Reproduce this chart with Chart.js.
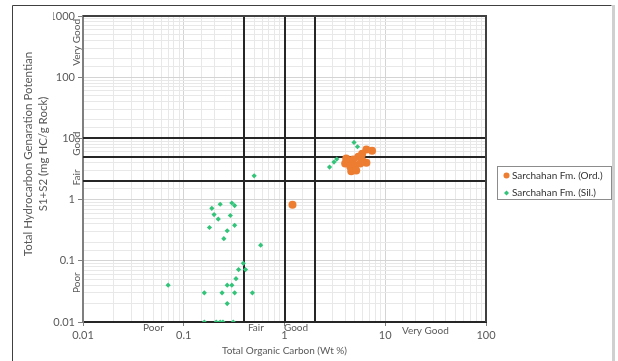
<!DOCTYPE html>
<html>
<head>
<meta charset="utf-8">
<script src="https://cdn.jsdelivr.net/npm/chart.js@4/dist/chart.umd.min.js"></script>
<style>
  html, body { margin: 0; padding: 0; background: #fff; }
  #wrap { position: relative; width: 618px; height: 361px; }
</style>
</head>
<body>
<div id="wrap"><canvas id="chart" width="618" height="361"></canvas></div>
<script>
// Sarchahan Fm. (Ord.) - TOC (wt %) vs S1+S2 (mg HC/g rock)
const ordToc   = [7.4, 6.5, 5.9, 5.4, 4.8, 4.3, 4.0, 4.5, 5.05, 5.65, 6.5, 4.6, 5.15, 5.9, 4.1, 1.2];
const ordS1S2  = [6.3, 6.6, 5.6, 5.0, 4.5, 4.3, 3.9, 3.45, 3.6, 3.9, 4.0, 2.9, 3.0, 4.35, 4.7, 0.82];

// Sarchahan Fm. (Sil.)
const silToc   = [4.9, 5.3, 3.3, 3.1, 2.8, 4.0, 0.50,
                  0.19, 0.23, 0.30, 0.32, 0.20, 0.22, 0.29, 0.18, 0.27, 0.32, 0.25, 0.58,
                  0.39, 0.35, 0.41, 0.33, 0.07, 0.27, 0.30, 0.16, 0.24, 0.32, 0.48, 0.27,
                  0.16, 0.21, 0.23, 0.245, 0.31];
const silS1S2  = [8.6, 7.3, 4.6, 4.1, 3.4, 4.6, 2.45,
                  0.72, 0.84, 0.88, 0.80, 0.57, 0.48, 0.55, 0.35, 0.31, 0.38, 0.23, 0.18,
                  0.091, 0.072, 0.072, 0.051, 0.040, 0.040, 0.040, 0.030, 0.030, 0.030, 0.030, 0.020,
                  0.01, 0.01, 0.01, 0.01, 0.01];

// classification limits
const tocLimits  = [0.4, 1, 2];
const s1s2Limits = [2, 5, 10];

const xRange = [0.01, 100];
const yRange = [0.01, 1000];

const seriesNames = ["Sarchahan Fm. (Ord.)", "Sarchahan Fm. (Sil.)"];
const seriesColors = ["#ED7D31", "#33C47A"];

// zone labels: [text, value along axis]
const xZones = [["Poor", 0.05], ["Fair", 0.52], ["Good", 1.3], ["Very Good", 25]];
const yZones = [["Very Good", 370], ["Good", 8.2], ["Fair", 2.3], ["Poor", 0.044]];

const FONT = "Lato, 'Open Sans', sans-serif";
const TXT = "#595959";

function toPoints(xs, ys) {
    return xs.map((x, i) => ({ x: x, y: ys[i] }));
}

function isDecade(v) {
    const l = Math.log10(v);
    return Math.abs(l - Math.round(l)) < 1e-9;
}

const decorations = {
    id: "decorations",
    beforeDatasetsDraw(chart) {
        const { ctx, chartArea: a, scales: { x, y } } = chart;
        ctx.save();
        ctx.strokeStyle = "#262626";
        ctx.lineWidth = 2;
        tocLimits.forEach(v => {
            const px = Math.round(x.getPixelForValue(v));
            ctx.beginPath(); ctx.moveTo(px, a.top); ctx.lineTo(px, a.bottom); ctx.stroke();
        });
        s1s2Limits.forEach(v => {
            const py = Math.round(y.getPixelForValue(v));
            ctx.beginPath(); ctx.moveTo(a.left, py); ctx.lineTo(a.right, py); ctx.stroke();
        });
        // plot frame (top + right)
        ctx.strokeStyle = "#404040";
        ctx.beginPath();
        ctx.moveTo(a.left, a.top); ctx.lineTo(a.right, a.top); ctx.lineTo(a.right, a.bottom);
        ctx.stroke();
        ctx.restore();
    },
    afterDraw(chart) {
        const { ctx, chartArea: a, scales: { x, y } } = chart;
        ctx.save();
        ctx.fillStyle = TXT;
        ctx.font = "10px " + FONT;
        ctx.textAlign = "center";
        ctx.textBaseline = "middle";

        xZones.forEach(([t, v]) => {
            ctx.fillText(t, x.getPixelForValue(v), t === "Very Good" ? 331 : 328);
        });
        yZones.forEach(([t, v]) => {
            ctx.save();
            ctx.translate(76.5, y.getPixelForValue(v));
            ctx.rotate(-Math.PI / 2);
            ctx.fillText(t, 0, 0);
            ctx.restore();
        });

        // axis titles
        ctx.fillText("Total Organic Carbon (Wt %)", (a.left + a.right) / 2, 351);
        ctx.save();
        ctx.translate(28, 154);
        ctx.rotate(-Math.PI / 2);
        ctx.font = "11.5px " + FONT;
        ctx.fillText("Total Hydrocarbon Genaration Potentian", 0, 0);
        ctx.fillText("S1+S2 (mg HC/g Rock)", 0, 15);
        ctx.restore();

        // legend
        ctx.strokeStyle = "#8c8c8c";
        ctx.lineWidth = 1;
        ctx.strokeRect(497.5, 166.5, 114, 33);
        ctx.textAlign = "left";
        ctx.fillStyle = "#333";
        ctx.font = "10px " + FONT;
        ctx.fillText(seriesNames[0], 512, 175.5);
        ctx.fillText(seriesNames[1], 512, 192.5);
        ctx.fillStyle = seriesColors[0];
        ctx.beginPath(); ctx.arc(506.5, 175.5, 3, 0, Math.PI * 2); ctx.fill();
        ctx.fillStyle = seriesColors[1];
        ctx.beginPath();
        ctx.moveTo(506.5, 190.5); ctx.lineTo(509, 193); ctx.lineTo(506.5, 195.5); ctx.lineTo(504, 193);
        ctx.closePath(); ctx.fill();

        // outer chart frame
        ctx.strokeStyle = "#404040";
        ctx.beginPath();
        ctx.moveTo(12.5, 361); ctx.lineTo(12.5, 5.5); ctx.lineTo(611.5, 5.5);
        ctx.stroke();
        ctx.strokeStyle = "#d0d0d0";
        ctx.lineWidth = 3;
        ctx.beginPath(); ctx.moveTo(613.5, 5); ctx.lineTo(613.5, 361); ctx.stroke();
        ctx.restore();
    }
};

function logAxis(range, afterFit, tickLen) {
    return {
        type: "logarithmic",
        min: range[0],
        max: range[1],
        afterFit: afterFit,
        ticks: {
            autoSkip: false,
            maxRotation: 0,
            padding: 3,
            color: TXT,
            font: { family: FONT, size: 11 },
            callback: v => isDecade(v) ? String(Number(v.toPrecision(3))) : ""
        },
        grid: {
            color: c => c.tick && isDecade(c.tick.value) ? "#d4d4d4" : "#e8e8e8",
            tickColor: c => c.tick && isDecade(c.tick.value) ? "#808080" : "rgba(0,0,0,0)",
            tickLength: tickLen
        }
    };
}

new Chart(document.getElementById("chart").getContext("2d"), {
    type: "scatter",
    data: {
        datasets: [
            {
                label: seriesNames[0],
                data: toPoints(ordToc, ordS1S2),
                backgroundColor: seriesColors[0],
                borderWidth: 0,
                pointStyle: "circle",
                pointRadius: 4
            },
            {
                label: seriesNames[1],
                data: toPoints(silToc, silS1S2),
                backgroundColor: seriesColors[1],
                borderWidth: 0,
                pointStyle: "rectRot",
                pointRadius: 2.6
            }
        ]
    },
    options: {
        responsive: false,
        animation: false,
        layout: { padding: { left: 53, top: 16, right: 132, bottom: 19 } },
        plugins: { legend: { display: false }, tooltip: { enabled: false } },
        scales: {
            x: Object.assign(logAxis(xRange, s => { s.height = 20; }, 4), {
                border: { color: "#262626", width: 2 }
            }),
            y: Object.assign(logAxis(yRange, s => { s.width = 30; }, 5), {
                border: { color: "#7f7f7f", width: 2 }
            })
        }
    },
    plugins: [decorations]
});
</script>
</body>
</html>
